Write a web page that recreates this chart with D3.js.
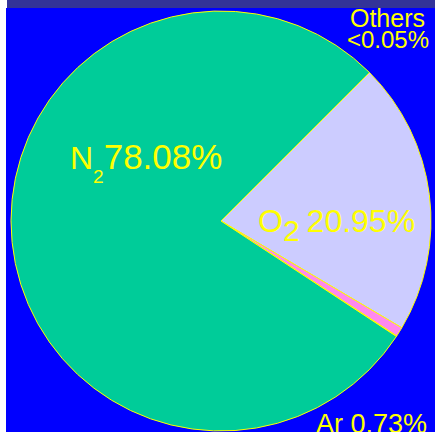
<!DOCTYPE html>
<html>
<head>
<meta charset="utf-8">
<script src="https://cdn.jsdelivr.net/npm/d3@7"></script>
<style>
  html, body { margin: 0; padding: 0; background: #fff; }
  svg { display: block; }
</style>
</head>
<body>
<div id="chart"></div>
<script>
const width = 435
const height = 432

// gases of dry air, percent by volume (clockwise from the O2 edge)
const gases = ["O2", "Ar", "Others", "N2"]
const percents = [20.95, 0.73, 0.04, 78.08]
const colors = ["#ccccff", "#ff88ee", "#ffff00", "#00cc99"]

const cx = 221, cy = 221, radius = 210
const startDeg = 45

const svg = d3.select("#chart")
  .append("svg")
  .attr("width", width)
  .attr("height", height)
  .style("font-family", "'Liberation Sans', Arial, sans-serif")

// background
svg.append("rect")
  .attr("x", 6).attr("y", 8)
  .attr("width", width - 6).attr("height", height - 8)
  .attr("fill", "#0000ff")

svg.append("rect")
  .attr("x", 7).attr("y", 0)
  .attr("width", width - 7).attr("height", 8)
  .attr("fill", "#333399")

const data = gases.map((g, i) => ({gas: g, value: percents[i], color: colors[i]}))

const start = startDeg * Math.PI / 180
const pie = d3.pie()
  .sort(null)
  .value(d => d.value)
  .startAngle(start)
  .endAngle(start + 2 * Math.PI)

const arc = d3.arc().innerRadius(0).outerRadius(radius)

const g = svg.append("g").attr("transform", `translate(${cx},${cy})`)

g.selectAll("path")
  .data(pie(data))
  .join("path")
    .attr("d", arc)
    .attr("fill", d => d.data.color)
    .attr("stroke", "#ffff00")
    .attr("stroke-width", 1)
    .attr("stroke-linejoin", "round")

// labels
const yellow = "#ffff00"

const n2 = svg.append("text")
  .attr("x", 70).attr("y", 169)
  .attr("fill", yellow)
  .style("font-size", "32px")
n2.append("tspan").text("N")
n2.append("tspan").attr("dy", 14).style("font-size", "19px").text("2")
n2.append("tspan").attr("dy", -14).style("font-size", "35px").text("78.08%")

const o2 = svg.append("text")
  .attr("x", 258).attr("y", 232)
  .attr("fill", yellow)
  .style("font-size", "32px")
o2.append("tspan").text("O")
o2.append("tspan").attr("dy", 9).style("font-size", "30px").text("2")
o2.append("tspan").attr("dy", -9).attr("dx", 7).style("font-size", "32px").text("20.95%")

svg.append("text")
  .attr("x", 425).attr("y", 27)
  .attr("text-anchor", "end")
  .attr("fill", yellow)
  .style("font-size", "25px")
  .text("Others")

svg.append("text")
  .attr("x", 429).attr("y", 48)
  .attr("text-anchor", "end")
  .attr("fill", yellow)
  .style("font-size", "24px")
  .text("<0.05%")

svg.append("text")
  .attr("x", 316).attr("y", 433)
  .attr("fill", yellow)
  .style("font-size", "27px")
  .text("Ar 0.73%")
</script>
</body>
</html>
